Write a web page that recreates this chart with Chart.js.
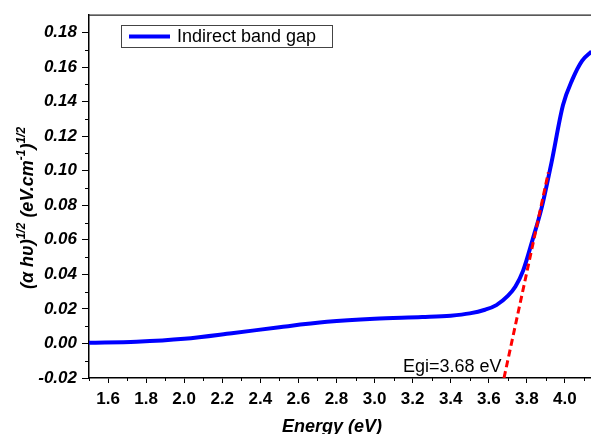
<!DOCTYPE html>
<html>
<head>
<meta charset="utf-8">
<script src="https://cdn.jsdelivr.net/npm/chart.js@4.4.1/dist/chart.umd.min.js"></script>
<style>
  body { margin: 0; background: #fff; }
  canvas { display: block; }
</style>
</head>
<body>
<canvas id="gapChart" width="591" height="434"></canvas>
<script>
// Tauc plot data: photon energy (eV) vs (alpha*h*nu)^(1/2)
const energy = [1.50, 1.75, 2.00, 2.25, 2.50, 2.75, 3.00, 3.25, 3.40, 3.50, 3.58, 3.64,
  3.70, 3.74, 3.78, 3.83, 3.88, 3.93, 3.99, 4.04, 4.09, 4.14];
const tauc = [0.0004, 0.0010, 0.0027, 0.0059, 0.0094, 0.0125, 0.0143, 0.0153, 0.0161, 0.0174, 0.0195, 0.0222,
  0.0275, 0.0330, 0.0420, 0.0600, 0.0795, 0.1050, 0.1380, 0.1530, 0.1636, 0.1690];

// linear fit of the absorption edge, extrapolated to the axis
const egi = 3.68;
const fitX = [egi, 3.913];
const fitY = [-0.02, 0.099];

const xTicks = [1.6, 1.8, 2.0, 2.2, 2.4, 2.6, 2.8, 3.0, 3.2, 3.4, 3.6, 3.8, 4.0];
const xMinor = [1.5, 1.7, 1.9, 2.1, 2.3, 2.5, 2.7, 2.9, 3.1, 3.3, 3.5, 3.7, 3.9, 4.1];
const yTicks = [-0.02, 0.00, 0.02, 0.04, 0.06, 0.08, 0.10, 0.12, 0.14, 0.16, 0.18];
const yMinor = [-0.01, 0.01, 0.03, 0.05, 0.07, 0.09, 0.11, 0.13, 0.15, 0.17];

const FONT = "'Liberation Sans', Arial, sans-serif";

const decorations = {
  id: 'decorations',
  afterDraw(chart) {
    const ctx = chart.ctx;
    const area = chart.chartArea;
    const xs = chart.scales.x, ys = chart.scales.y;
    ctx.save();

    // top frame line
    ctx.strokeStyle = '#222';
    ctx.lineWidth = 1.3;
    ctx.beginPath();
    ctx.moveTo(area.left, area.top);
    ctx.lineTo(area.right, area.top);
    ctx.stroke();

    // minor ticks
    ctx.strokeStyle = '#000';
    ctx.lineWidth = 1;
    ctx.beginPath();
    xMinor.forEach(v => {
      const px = Math.round(xs.getPixelForValue(v)) + 0.5;
      ctx.moveTo(px, area.bottom);
      ctx.lineTo(px, area.bottom + 3);
    });
    yMinor.forEach(v => {
      const py = Math.round(ys.getPixelForValue(v)) + 0.5;
      ctx.moveTo(area.left, py);
      ctx.lineTo(area.left - 4, py);
    });
    ctx.stroke();

    // legend box
    ctx.fillStyle = '#fff';
    ctx.fillRect(121.5, 25.5, 211, 22);
    ctx.strokeStyle = '#444';
    ctx.lineWidth = 1;
    ctx.strokeRect(121.5, 25.5, 211, 22);
    ctx.strokeStyle = '#0000ff';
    ctx.lineWidth = 4;
    ctx.beginPath();
    ctx.moveTo(129, 36.5);
    ctx.lineTo(170, 36.5);
    ctx.stroke();
    ctx.fillStyle = '#000';
    ctx.font = '18px ' + FONT;
    ctx.textBaseline = 'middle';
    ctx.textAlign = 'left';
    ctx.fillText('Indirect band gap', 177, 37);

    // gap annotation
    ctx.textBaseline = 'alphabetic';
    ctx.fillText('Egi=' + egi.toFixed(2) + ' eV', 403, 372);

    // x axis title
    ctx.font = 'italic bold 18px ' + FONT;
    ctx.textAlign = 'center';
    ctx.fillText('Energy (eV)', 332, 432);

    // y axis title with superscripts
    const parts = [
      ['(\u03b1 h\u03c5)', false], ['1/2', true], [' (eV.cm', false],
      ['-1', true], [')', false], ['1/2', true]
    ];
    const mainFont = 'italic bold 18px ' + FONT;
    const supFont = 'italic bold 12px ' + FONT;
    let total = 0;
    parts.forEach(([t, sup]) => {
      ctx.font = sup ? supFont : mainFont;
      total += ctx.measureText(t).width;
    });
    ctx.translate(33, 208);
    ctx.rotate(-Math.PI / 2);
    ctx.textAlign = 'left';
    let cx = -total / 2;
    parts.forEach(([t, sup]) => {
      ctx.font = sup ? supFont : mainFont;
      ctx.fillText(t, cx, sup ? -8 : 0);
      cx += ctx.measureText(t).width;
    });
    ctx.restore();
  }
};

new Chart(document.getElementById('gapChart'), {
  type: 'line',
  data: {
    datasets: [
      {
        label: 'Indirect band gap',
        data: energy.map((e, i) => ({ x: e, y: tauc[i] })),
        borderColor: '#0000ff',
        borderWidth: 4,
        pointRadius: 0,
        cubicInterpolationMode: 'monotone',
        order: 1
      },
      {
        label: 'fit',
        data: fitX.map((e, i) => ({ x: e, y: fitY[i] })),
        borderColor: '#ff0000',
        borderWidth: 3,
        borderDash: [7, 4],
        pointRadius: 0,
        order: 0
      }
    ]
  },
  options: {
    responsive: false,
    animation: false,
    layout: { padding: { top: 12, right: 0, left: 0, bottom: 0 } },
    plugins: {
      legend: { display: false },
      tooltip: { enabled: false }
    },
    scales: {
      x: {
        type: 'linear',
        min: 1.5,
        max: 4.137,
        afterBuildTicks: scale => { scale.ticks = xTicks.map(v => ({ value: v })); },
        afterFit: scale => { scale.height = 56; },
        grid: { drawOnChartArea: false, tickLength: 5, color: '#000' },
        border: { color: '#000', width: 1.5 },
        ticks: {
          color: '#000',
          padding: 6,
          maxRotation: 0,
          autoSkip: false,
          font: { family: FONT, size: 17, weight: 'bold' },
          callback: v => v.toFixed(1)
        }
      },
      y: {
        min: -0.02,
        max: 0.19,
        afterBuildTicks: scale => { scale.ticks = yTicks.map(v => ({ value: v })); },
        afterFit: scale => { scale.width = 89; },
        grid: { drawOnChartArea: false, tickLength: 7, color: '#000' },
        border: { color: '#000', width: 1.5 },
        ticks: {
          color: '#000',
          padding: 5,
          autoSkip: false,
          font: { family: FONT, size: 17, weight: 'bold', style: 'italic' },
          callback: v => v.toFixed(2)
        }
      }
    }
  },
  plugins: [decorations]
});
</script>
</body>
</html>
